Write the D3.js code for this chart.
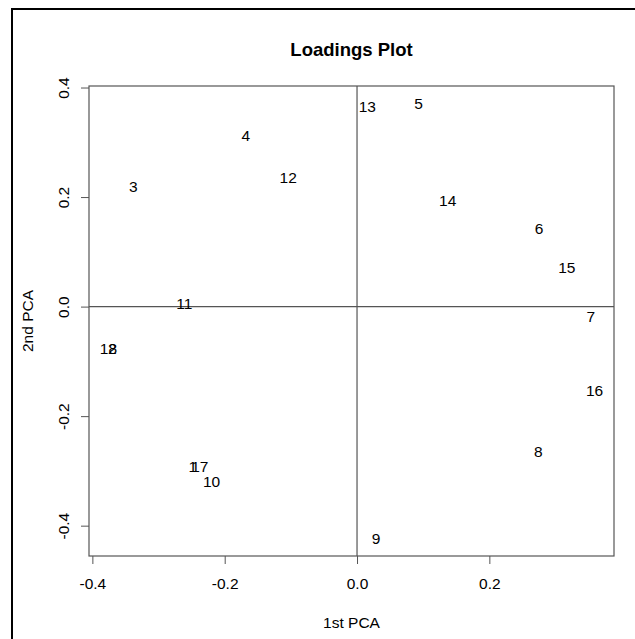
<!DOCTYPE html>
<html>
<head>
<meta charset="utf-8">
<script src="https://cdn.jsdelivr.net/npm/d3@7"></script>
<style>
  body { margin: 0; background: #fff; }
  text { font-family: "Liberation Sans", Arial, sans-serif; fill: #000; }
</style>
</head>
<body>
<div id="chart"></div>
<script>
// loadings
var labels = ["1", "2", "3", "4", "5", "6", "7", "8", "9", "10", "11", "12", "13", "14", "15", "16", "17", "18"];
var pc1 = [-0.248, -0.370, -0.338, -0.168, 0.093, 0.275, 0.3535, 0.274, 0.0287, -0.2198, -0.261, -0.104, 0.0156, 0.137, 0.317, 0.359, -0.2375, -0.3757];
var pc2 = [-0.292, -0.076, 0.220, 0.312, 0.371, 0.142, -0.0185, -0.265, -0.4236, -0.320, 0.006, 0.235, 0.366, 0.194, 0.072, -0.153, -0.292, -0.076];

var xTicks = [-0.4, -0.2, 0.0, 0.2];
var yTicks = [-0.4, -0.2, 0.0, 0.2, 0.4];

function init() {
    var w = 635, h = 639;
    var box = { left: 89, right: 614, top: 86, bottom: 556 };
    var fs = 15.5;

    var svg = d3.select("#chart").append("svg")
        .attr("width", w)
        .attr("height", h);

    // outer frame (only top and left edges show)
    svg.append("rect")
        .attr("x", 12).attr("y", 9)
        .attr("width", 700).attr("height", 700)
        .attr("fill", "none")
        .attr("stroke", "#000")
        .attr("stroke-width", 2);

    // R style limits: data range widened by 4%
    function rlim(arr) {
        var e = d3.extent(arr), r = e[1] - e[0];
        return [e[0] - 0.04 * r, e[1] + 0.04 * r];
    }

    var x = d3.scaleLinear().domain(rlim(pc1)).range([box.left, box.right]);
    var y = d3.scaleLinear().domain(rlim(pc2)).range([box.bottom, box.top]);

    var fmt = function(d) { return d.toFixed(1); };

    // x axis
    var xAxis = svg.append("g")
        .attr("transform", "translate(0," + box.bottom + ")")
        .call(d3.axisBottom(x).tickValues(xTicks).tickFormat(fmt).tickSize(8).tickPadding(14));
    xAxis.select(".domain").remove();
    xAxis.selectAll("line").attr("stroke", "#555");
    xAxis.selectAll("text").attr("font-size", fs).attr("font-family", "Liberation Sans, Arial, sans-serif").attr("fill", "#000");

    // y axis (labels parallel to the axis)
    var yAxis = svg.append("g")
        .attr("transform", "translate(" + box.left + ",0)")
        .call(d3.axisLeft(y).tickValues(yTicks).tickFormat(fmt).tickSize(8));
    yAxis.select(".domain").remove();
    yAxis.selectAll("line").attr("stroke", "#555");
    yAxis.selectAll("text")
        .attr("font-size", fs)
        .attr("font-family", "Liberation Sans, Arial, sans-serif")
        .attr("fill", "#000")
        .attr("x", null).attr("dy", null)
        .attr("text-anchor", "middle")
        .attr("transform", "translate(-20.5,0) rotate(-90)");

    // zero lines
    svg.append("line")
        .attr("x1", box.left).attr("x2", box.right)
        .attr("y1", y(0)).attr("y2", y(0))
        .attr("stroke", "#555").attr("stroke-width", 1.2);
    svg.append("line")
        .attr("x1", x(0)).attr("x2", x(0))
        .attr("y1", box.top).attr("y2", box.bottom)
        .attr("stroke", "#555").attr("stroke-width", 1.2);

    // plot box
    svg.append("rect")
        .attr("x", box.left).attr("y", box.top)
        .attr("width", box.right - box.left)
        .attr("height", box.bottom - box.top)
        .attr("fill", "none")
        .attr("stroke", "#555")
        .attr("stroke-width", 1.2);

    // point labels
    svg.append("g").selectAll("text")
        .data(labels)
        .enter().append("text")
        .attr("x", function(d, i) { return x(pc1[i]); })
        .attr("y", function(d, i) { return y(pc2[i]); })
        .attr("dy", "0.36em")
        .attr("text-anchor", "middle")
        .attr("font-size", fs)
        .text(function(d) { return d; });

    var cx = (box.left + box.right) / 2;

    // title
    svg.append("text")
        .attr("x", cx).attr("y", 56)
        .attr("text-anchor", "middle")
        .attr("font-size", 18.5)
        .attr("font-weight", "bold")
        .text("Loadings Plot");

    // axis titles
    svg.append("text")
        .attr("x", cx).attr("y", 627.5)
        .attr("text-anchor", "middle")
        .attr("font-size", fs)
        .text("1st PCA");

    svg.append("text")
        .attr("transform", "translate(32.5," + ((box.top + box.bottom) / 2) + ") rotate(-90)")
        .attr("text-anchor", "middle")
        .attr("font-size", fs)
        .text("2nd PCA");
}

window.onload = init;
</script>
</body>
</html>
